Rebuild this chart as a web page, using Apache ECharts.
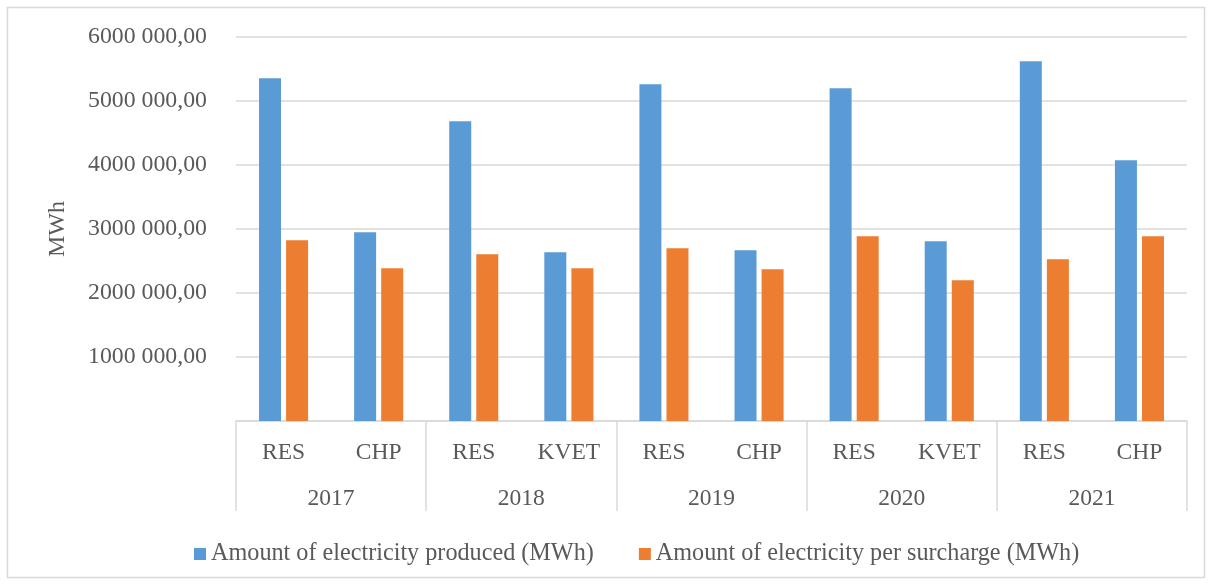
<!DOCTYPE html>
<html>
<head>
<meta charset="utf-8">
<script src="https://cdn.jsdelivr.net/npm/echarts@6/dist/echarts.min.js"></script>
<style>
html,body{margin:0;padding:0;background:#fff;}
#chart{width:1213px;height:585px;}
</style>
</head>
<body>
<div id="chart"></div>
<script>
const categories = ['RES','CHP','RES','KVET','RES','CHP','RES','KVET','RES','CHP'];
const years = ['2017','2018','2019','2020','2021'];
const produced = [5355000, 2948000, 4683000, 2636000, 5261000, 2667000, 5198000, 2808000, 5620000, 4073000];
const surcharge = [2823000, 2386000, 2605000, 2386000, 2698000, 2370000, 2886000, 2198000, 2526000, 2886000];
const seriesNames = ['Amount of electricity produced (MWh)', 'Amount of electricity per surcharge (MWh)'];
const yTicks = {min: 0, max: 6000000, interval: 1000000};

const FONT = '"Liberation Serif", "Times New Roman", serif';
const TXT = '#595959';
const GRID = '#d9d9d9';

function fmt(v) {
  if (v === 0) return '';
  const th = Math.floor(v / 1000);
  const rest = String(Math.round(v % 1000)).padStart(3, '0');
  return th + ' ' + rest + ',00';
}

const chart = echarts.init(document.getElementById('chart'));
chart.setOption({
  animation: false,
  backgroundColor: '#fff',
  graphic: [{
    type: 'rect',
    shape: {x: 7.5, y: 7.5, width: 1197, height: 570},
    style: {fill: 'none', stroke: GRID, lineWidth: 1.5},
    silent: true
  }],
  grid: {left: 236, right: 26, top: 37, bottom: 164, containLabel: false},
  legend: {
    data: seriesNames,
    left: 189,
    top: 537,
    itemWidth: 12,
    itemHeight: 12,
    itemGap: 45,
    icon: 'rect',
    textStyle: {fontFamily: FONT, fontSize: 24.2, color: TXT}
  },
  xAxis: [
    {
      type: 'category',
      data: categories,
      position: 'bottom',
      axisLine: {show: true, lineStyle: {color: GRID, width: 1.5}},
      axisTick: {show: false},
      axisLabel: {fontFamily: FONT, fontSize: 23.5, color: TXT, margin: 20, interval: 0}
    },
    {
      type: 'category',
      data: years,
      position: 'bottom',
      offset: 90,
      axisLine: {show: false},
      axisTick: {show: true, inside: true, length: 90, lineStyle: {color: GRID, width: 1.5}},
      axisLabel: {show: false}
    },
    {
      type: 'category',
      data: years,
      position: 'bottom',
      offset: 66,
      axisLine: {show: false},
      axisTick: {show: false},
      axisLabel: {fontFamily: FONT, fontSize: 23.5, color: TXT, margin: 0, interval: 0}
    }
  ],
  yAxis: {
    type: 'value',
    min: yTicks.min,
    max: yTicks.max,
    interval: yTicks.interval,
    name: 'MWh',
    nameLocation: 'middle',
    nameGap: 166,
    nameTextStyle: {fontFamily: FONT, fontSize: 24, color: TXT},
    axisLine: {show: false},
    axisTick: {show: false},
    splitLine: {lineStyle: {color: GRID, width: 1.5}},
    axisLabel: {fontFamily: FONT, fontSize: 23.8, color: TXT, margin: 29, formatter: fmt}
  },
  series: [
    {
      name: seriesNames[0],
      type: 'bar',
      xAxisIndex: 0,
      data: produced,
      barWidth: 22,
      barGap: '23%',
      itemStyle: {color: '#5b9bd5'}
    },
    {
      name: seriesNames[1],
      type: 'bar',
      xAxisIndex: 0,
      data: surcharge,
      barWidth: 22,
      barGap: '23%',
      itemStyle: {color: '#ed7d31'}
    }
  ]
});
</script>
</body>
</html>
